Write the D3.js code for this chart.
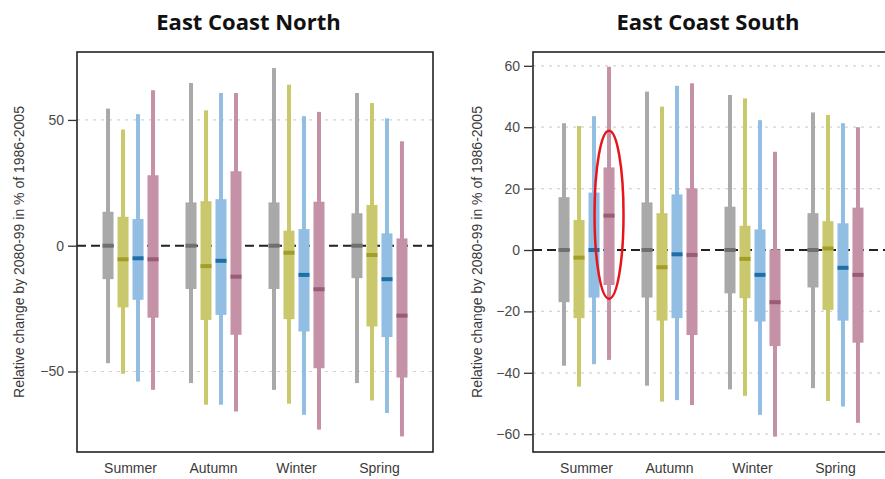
<!DOCTYPE html>
<html>
<head>
<meta charset="utf-8">
<script src="https://cdn.jsdelivr.net/npm/d3@7"></script>
<style>
  body { margin: 0; background: #fff; }
  text { font-family: "Liberation Sans", Arial, sans-serif; }
  .title { font-family: "Open Sans", "Liberation Sans", sans-serif; font-weight: bold; }
</style>
</head>
<body>
<div id="chart"></div>
<script>
// seasons along the x axis, four model series per season
const seasons = ['Summer', 'Autumn', 'Winter', 'Spring'];
const series = ['gray', 'yellow', 'blue', 'pink'];

// [whisker low, box low, median, box high, whisker high] per season, per series
const northGray   = [[-46.7, -13.3, 0, 13.5, 54.5], [-54.6, -17.2, 0, 17.2, 64.7], [-57.3, -17.2, 0, 17.2, 70.6], [-54.6, -12.9, 0, 12.9, 60.7]];
const northYellow = [[-50.9, -24.5, -5.4, 11.5, 46.2], [-63.2, -29.5, -8.1, 17.7, 53.8], [-62.8, -29.2, -2.8, 6.0, 64.0], [-61.5, -32.1, -3.7, 16.2, 56.7]];
const northBlue   = [[-54.0, -21.5, -5.0, 10.6, 52.3], [-63.2, -27.5, -6.0, 18.5, 60.7], [-67.2, -34.1, -11.6, 6.6, 51.5], [-66.5, -36.3, -13.3, 4.9, 50.6]];
const northPink   = [[-57.3, -28.6, -5.4, 28.0, 61.8], [-65.9, -35.4, -12.3, 29.6, 60.7], [-73.1, -48.7, -17.3, 17.5, 53.2], [-75.8, -52.4, -27.8, 2.9, 41.5]];

const southGray   = [[-37.7, -17.0, 0, 17.2, 41.3], [-44.2, -15.5, 0, 15.5, 51.6], [-45.4, -14.1, 0, 14.1, 50.5], [-45.0, -12.2, 0, 12.0, 44.8]];
const southYellow = [[-44.5, -22.2, -2.5, 9.8, 40.4], [-49.4, -23.0, -5.6, 12.0, 46.7], [-47.5, -15.7, -2.9, 7.9, 49.4], [-49.2, -19.5, 0.5, 9.4, 44.0]];
const southBlue   = [[-37.2, -15.5, 0, 18.7, 43.6], [-48.9, -22.2, -1.4, 18.1, 53.5], [-53.7, -23.3, -8.1, 6.7, 42.3], [-51.0, -23.0, -5.8, 8.7, 41.3]];
const southPink   = [[-35.8, -11.4, 11.2, 26.9, 59.7], [-50.5, -27.7, -1.6, 20.1, 54.3], [-60.8, -31.3, -17.0, 0.2, 32.0], [-56.3, -30.2, -8.1, 13.8, 40.0]];

const northTicks = [-50, 0, 50];
const southTicks = [-60, -40, -20, 0, 20, 40, 60];

const boxColor    = { gray: '#a9a9a9', yellow: '#c9c86c', blue: '#91bee2', pink: '#c591a6' };
const medianColor = { gray: '#707070', yellow: '#a39d2a', blue: '#1f6fa6', pink: '#9a5b77' };

const yLabel = 'Relative change by 2080-99 in % of 1986-2005';

const width = 885, height = 479;
const svg = d3.select('#chart').append('svg')
    .attr('width', width)
    .attr('height', height);

function drawPanel(opts) {
    const { title, titleX, left, right, top, bottom, domain, ticks, data, labelX } = opts;

    const y = d3.scaleLinear().domain(domain).range([bottom, top]);
    const x = d3.scalePoint().domain(seasons).range([left, right]).padding(0.645);
    const offset = d3.scaleBand().domain(series).range([-30, 30]);

    const g = svg.append('g');

    // gridlines
    g.selectAll('.grid')
        .data(ticks.filter(t => t !== 0))
        .enter()
        .append('line')
        .attr('x1', left).attr('x2', right)
        .attr('y1', d => y(d)).attr('y2', d => y(d))
        .attr('stroke', '#d4d4d4')
        .attr('stroke-width', 1.2)
        .attr('stroke-dasharray', '3,5');

    // zero line
    g.append('line')
        .attr('x1', left).attr('x2', right)
        .attr('y1', y(0)).attr('y2', y(0))
        .attr('stroke', '#222')
        .attr('stroke-width', 2)
        .attr('stroke-dasharray', '9,5');

    const rows = [];
    series.forEach((s, si) => {
        data[si].forEach((v, i) => {
            rows.push({ season: seasons[i], series: s, lo: v[0], q1: v[1], med: v[2], q3: v[3], hi: v[4] });
        });
    });

    const cx = d => x(d.season) + offset(d.series) + offset.bandwidth() / 2;

    const box = g.selectAll('.box')
        .data(rows)
        .enter()
        .append('g');

    // whiskers
    box.append('rect')
        .attr('x', d => cx(d) - 2)
        .attr('width', 4)
        .attr('y', d => y(d.hi))
        .attr('height', d => y(d.lo) - y(d.hi))
        .attr('fill', d => boxColor[d.series]);

    // boxes
    box.append('rect')
        .attr('x', d => cx(d) - 5.5)
        .attr('width', 11)
        .attr('y', d => y(d.q3))
        .attr('height', d => y(d.q1) - y(d.q3))
        .attr('fill', d => boxColor[d.series]);

    // medians
    box.append('rect')
        .attr('x', d => cx(d) - 5.5)
        .attr('width', 11)
        .attr('y', d => y(d.med) - 2)
        .attr('height', 4)
        .attr('fill', d => medianColor[d.series]);

    // frame
    g.append('rect')
        .attr('x', left).attr('y', top)
        .attr('width', right - left).attr('height', bottom - top)
        .attr('fill', 'none')
        .attr('stroke', '#222')
        .attr('stroke-width', 1.6);

    // y axis ticks
    const yAxis = g.append('g')
        .attr('transform', `translate(${left},0)`)
        .call(d3.axisLeft(y).tickValues(ticks).tickSize(9).tickPadding(4));
    yAxis.select('.domain').remove();
    yAxis.selectAll('line').attr('stroke', '#333').attr('stroke-width', 1.3);
    yAxis.selectAll('text')
        .attr('fill', '#4a4a4a')
        .style('font-size', '14px')
        .style('font-family', '"Liberation Sans", Arial, sans-serif');

    // season labels
    g.selectAll('.season')
        .data(seasons)
        .enter()
        .append('text')
        .attr('x', d => x(d))
        .attr('y', 473)
        .attr('text-anchor', 'middle')
        .attr('fill', '#3a3a3a')
        .style('font-size', '14px')
        .text(d => d);

    // y label
    g.append('text')
        .attr('transform', `translate(${labelX},252) rotate(-90)`)
        .attr('text-anchor', 'middle')
        .attr('fill', '#3a3a3a')
        .style('font-size', '14px')
        .text(yLabel);

    // title
    g.append('text')
        .attr('class', 'title')
        .attr('x', titleX)
        .attr('y', 30)
        .attr('text-anchor', 'middle')
        .attr('fill', '#111')
        .style('font-size', '22px')
        .text(title);

    return { x, y, offset };
}

drawPanel({
    title: 'East Coast North', titleX: 248.5,
    left: 77, right: 433, top: 52, bottom: 452,
    domain: [-82, 77], ticks: northTicks,
    data: [northGray, northYellow, northBlue, northPink],
    labelX: 24
});

const south = drawPanel({
    title: 'East Coast South', titleX: 708,
    left: 533, right: 889, top: 52, bottom: 452,
    domain: [-65.8, 64.5], ticks: southTicks,
    data: [southGray, southYellow, southBlue, southPink],
    labelX: 482
});

// red highlight round the summer pink box
const hx = south.x('Summer') + south.offset('pink') + south.offset.bandwidth() / 2;
svg.append('ellipse')
    .attr('cx', hx)
    .attr('cy', south.y(11.5))
    .attr('rx', 14.5)
    .attr('ry', 84)
    .attr('fill', 'none')
    .attr('stroke', '#e8141b')
    .attr('stroke-width', 2.5);
</script>
</body>
</html>
